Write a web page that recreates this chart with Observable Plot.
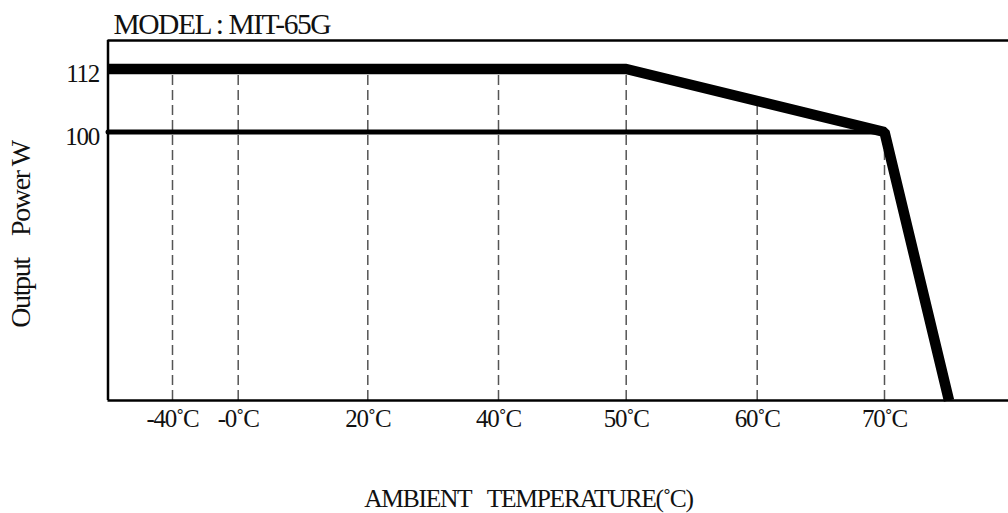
<!DOCTYPE html>
<html><head><meta charset="utf-8">
<script src="https://cdn.jsdelivr.net/npm/d3@7"></script>
<script src="https://cdn.jsdelivr.net/npm/@observablehq/plot@0.6"></script>
<style>
body{margin:0;background:#fff}
#chart svg text{letter-spacing:-0.05em}
</style>
</head><body><div id="chart"></div>
<script>
// ---- data ----
const title = "MODEL : MIT-65G";
const xTitle = "AMBIENT\u00a0\u00a0\u00a0TEMPERATURE(˚C)";
const yTitle = "Output\u00a0\u00a0\u00a0\u00a0Power W";
const tickTemps = [-40, 0, 20, 40, 50, 60, 70];
const tickLabels = ["-40˚C", "-0˚C", "20˚C", "40˚C", "50˚C", "60˚C", "70˚C"];
const gridTop = [112, 112, 112, 112, 112, 106, 100];
const powerTicks = [100, 112];
const curveTemp = [-80, 50, 70, 75];
const curvePower = [112, 112, 100, 0];
const ratedTemp = [-80, 70];
const ratedPower = [100, 100];

const curve = curveTemp.map((t, i) => ({t, p: curvePower[i]}));
const rated = ratedTemp.map((t, i) => ({t, p: ratedPower[i]}));
const grid = tickTemps.map((t, i) => ({t, top: gridTop[i], label: tickLabels[i]}));

const font = "'Liberation Serif', 'Times New Roman', serif";

const chart = Plot.plot({
  width: 1008,
  height: 513,
  marginLeft: 107.5,
  marginRight: 0,
  marginTop: 40,
  marginBottom: 113,
  style: {fontFamily: font, color: "#111", background: "#fff"},
  x: {type: "linear", domain: [-80, -40, 0, 20, 40, 50, 60, 70, 80],
      range: [107.5, 172, 237.7, 367.3, 498, 625.7, 756.7, 884, 1013], axis: null},
  y: {type: "linear", domain: [0, 100, 112, 117.4], range: [400, 131.5, 68.5, 40], axis: null},
  marks: [
    Plot.ruleX(grid, {x: "t", y1: 0, y2: "top", stroke: "#555", strokeWidth: 1.5, strokeDasharray: "10,5"}),
    Plot.line(rated, {x: "t", y: "p", stroke: "#000", strokeWidth: 5}),
    Plot.line(curve, {x: "t", y: "p", stroke: "#000", strokeWidth: 10.5, strokeLinejoin: "miter", strokeLinecap: "butt"}),
    Plot.ruleY([0, 117.4], {stroke: "#000", strokeWidth: 2.5}),
    Plot.ruleX([-80], {stroke: "#000", strokeWidth: 2.5}),
    Plot.text(grid, {x: "t", text: "label", frameAnchor: "bottom", textAnchor: "middle", lineAnchor: "top", dy: 9, fontSize: 25, fill: "#111"}),
    Plot.text(powerTicks, {y: d => d, text: d => String(d), frameAnchor: "left", textAnchor: "end", lineAnchor: "middle", dx: -9, dy: 5, fontSize: 25, fill: "#111"}),
    Plot.text([title], {text: d => d, frameAnchor: "top-left", textAnchor: "start", lineAnchor: "middle", dx: 5.5, dy: -16.4, fontSize: 29.5, fill: "#111"}),
    Plot.text([xTitle], {text: d => d, frameAnchor: "bottom", textAnchor: "middle", lineAnchor: "middle", dx: -29.75, dy: 98.8, fontSize: 25.5, fill: "#111"}),
    Plot.text([yTitle], {text: d => d, frameAnchor: "left", textAnchor: "middle", lineAnchor: "middle", rotate: -90, dx: -86.5, dy: 14, fontSize: 28, fill: "#111"})
  ]
});
document.getElementById("chart").appendChild(chart);
</script>
</body></html>
